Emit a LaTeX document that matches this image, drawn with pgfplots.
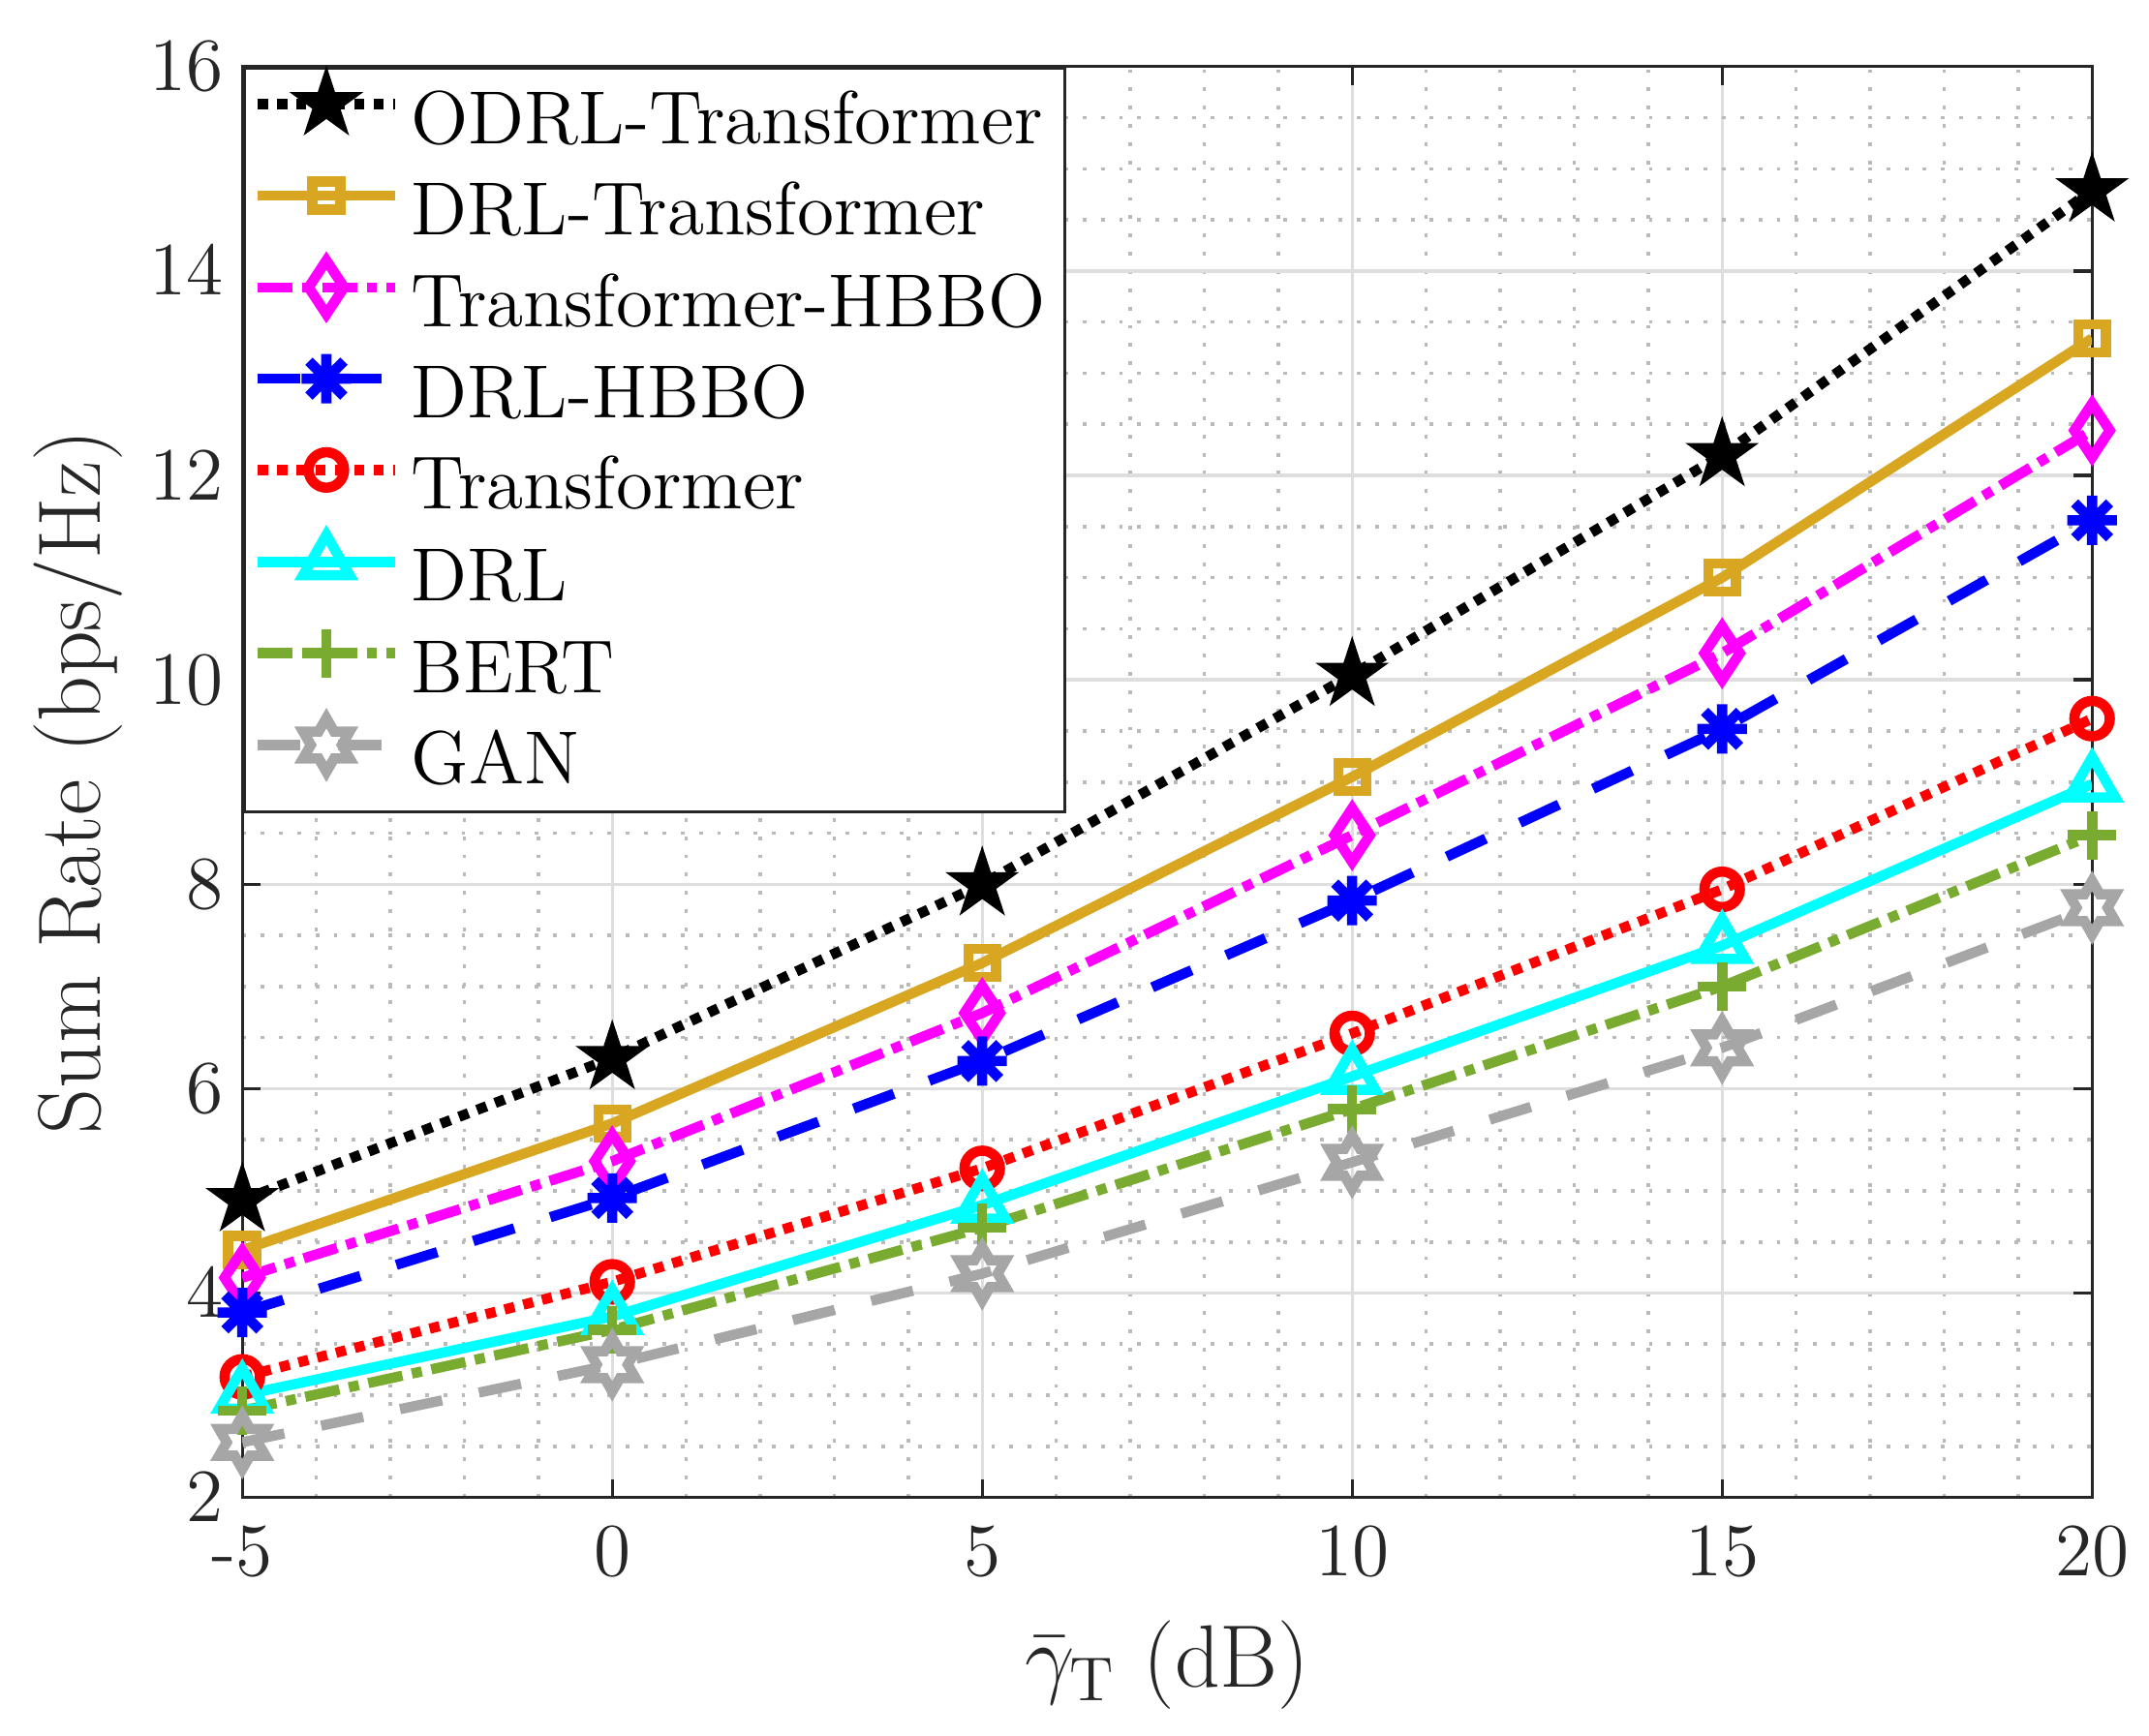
\RequirePackage{fix-cm}
\documentclass[border=0pt]{standalone}
\usepackage{fontspec}
\usepackage{pgfplots}
\pgfplotsset{compat=1.18}

\definecolor{cgold}{rgb}{0.85,0.65,0.13}
\definecolor{cgreen}{rgb}{0.47,0.67,0.19}
\definecolor{cgray}{rgb}{0.65,0.65,0.65}
\definecolor{caxis}{rgb}{0.15,0.15,0.15}
\definecolor{cmag}{rgb}{1,0,1}
\definecolor{ccyan}{rgb}{0,1,1}
\definecolor{cblue}{rgb}{0,0,1}
\definecolor{cred}{rgb}{1,0,0}

\pgfdeclareplotmark{fstar}{%
  \pgfpathmoveto{\pgfqpoint{0pt}{\pgfplotmarksize}}%
  \pgfpathlineto{\pgfqpoint{-0.2245\pgfplotmarksize}{0.3090\pgfplotmarksize}}%
  \pgfpathlineto{\pgfqpoint{-0.9511\pgfplotmarksize}{0.3090\pgfplotmarksize}}%
  \pgfpathlineto{\pgfqpoint{-0.3633\pgfplotmarksize}{-0.1180\pgfplotmarksize}}%
  \pgfpathlineto{\pgfqpoint{-0.5878\pgfplotmarksize}{-0.8090\pgfplotmarksize}}%
  \pgfpathlineto{\pgfqpoint{0pt}{-0.382\pgfplotmarksize}}%
  \pgfpathlineto{\pgfqpoint{0.5878\pgfplotmarksize}{-0.8090\pgfplotmarksize}}%
  \pgfpathlineto{\pgfqpoint{0.3633\pgfplotmarksize}{-0.1180\pgfplotmarksize}}%
  \pgfpathlineto{\pgfqpoint{0.9511\pgfplotmarksize}{0.3090\pgfplotmarksize}}%
  \pgfpathlineto{\pgfqpoint{0.2245\pgfplotmarksize}{0.3090\pgfplotmarksize}}%
  \pgfpathclose\pgfusepathqfillstroke}

\pgfdeclareplotmark{hexagram}{%
  \pgfpathmoveto{\pgfqpoint{0pt}{\pgfplotmarksize}}%
  \pgfpathlineto{\pgfqpoint{-0.2887\pgfplotmarksize}{0.5\pgfplotmarksize}}%
  \pgfpathlineto{\pgfqpoint{-0.8660\pgfplotmarksize}{0.5\pgfplotmarksize}}%
  \pgfpathlineto{\pgfqpoint{-0.5774\pgfplotmarksize}{0pt}}%
  \pgfpathlineto{\pgfqpoint{-0.8660\pgfplotmarksize}{-0.5\pgfplotmarksize}}%
  \pgfpathlineto{\pgfqpoint{-0.2887\pgfplotmarksize}{-0.5\pgfplotmarksize}}%
  \pgfpathlineto{\pgfqpoint{0pt}{-\pgfplotmarksize}}%
  \pgfpathlineto{\pgfqpoint{0.2887\pgfplotmarksize}{-0.5\pgfplotmarksize}}%
  \pgfpathlineto{\pgfqpoint{0.8660\pgfplotmarksize}{-0.5\pgfplotmarksize}}%
  \pgfpathlineto{\pgfqpoint{0.5774\pgfplotmarksize}{0pt}}%
  \pgfpathlineto{\pgfqpoint{0.8660\pgfplotmarksize}{0.5\pgfplotmarksize}}%
  \pgfpathlineto{\pgfqpoint{0.2887\pgfplotmarksize}{0.5\pgfplotmarksize}}%
  \pgfpathclose\pgfusepathqstroke}

\pgfdeclareplotmark{mdiamond}{%
  \pgfpathmoveto{\pgfqpoint{0pt}{\pgfplotmarksize}}%
  \pgfpathlineto{\pgfqpoint{-0.66\pgfplotmarksize}{0pt}}%
  \pgfpathlineto{\pgfqpoint{0pt}{-\pgfplotmarksize}}%
  \pgfpathlineto{\pgfqpoint{0.66\pgfplotmarksize}{0pt}}%
  \pgfpathclose\pgfusepathqstroke}

\pgfdeclareplotmark{mstar}{%
  \pgfpathmoveto{\pgfqpoint{-\pgfplotmarksize}{0pt}}%
  \pgfpathlineto{\pgfqpoint{\pgfplotmarksize}{0pt}}%
  \pgfpathmoveto{\pgfqpoint{0pt}{-\pgfplotmarksize}}%
  \pgfpathlineto{\pgfqpoint{0pt}{\pgfplotmarksize}}%
  \pgfpathmoveto{\pgfqpoint{-0.707\pgfplotmarksize}{-0.707\pgfplotmarksize}}%
  \pgfpathlineto{\pgfqpoint{0.707\pgfplotmarksize}{0.707\pgfplotmarksize}}%
  \pgfpathmoveto{\pgfqpoint{-0.707\pgfplotmarksize}{0.707\pgfplotmarksize}}%
  \pgfpathlineto{\pgfqpoint{0.707\pgfplotmarksize}{-0.707\pgfplotmarksize}}%
  \pgfusepathqstroke}

\begin{document}
\begin{tikzpicture}
\begin{axis}[
  name=ax,
  scale only axis, width=344.3pt, height=266.4pt,
  xmin=-5, xmax=20, ymin=2, ymax=16,
  xtick={-5,0,5,10,15,20}, xticklabels={-5,0,5,10,15,20},
  ytick={2,4,...,16},
  minor x tick num=4, minor y tick num=3,
  grid=both,
  major grid style={color=black!13, line width=0.6pt},
  minor grid style={color=black!27, line width=0.65pt, dash pattern=on 0.7pt off 2.7pt},
  tick align=inside, major tick length=3.4pt, minor tick length=0pt,
  tick style={color=caxis, line width=0.6pt},
  axis line style={color=caxis, line width=0.6pt},
  every tick label/.append style={text=caxis, font=\fontsize{14}{17}\selectfont},
  xticklabel style={yshift=-1.8pt},
  xlabel={$\bar{\gamma}_{\mathrm{T}}$ (dB)},
  ylabel={Sum Rate (bps/Hz)},
  xlabel style={at={(rel axis cs:0.5,0)}, anchor=center, yshift=-31.2pt, text=caxis, font=\fontsize{16.5}{19}\selectfont},
  ylabel style={at={(rel axis cs:0,0.5)}, anchor=center, yshift=30.5pt, text=caxis, font=\fontsize{16.5}{19}\selectfont},
  legend cell align=left,
  legend style={at={(rel axis cs:0,1)}, anchor=north west, draw=caxis, line width=0.6pt,
    fill=white, font=\fontsize{14}{17}\selectfont, row sep=0pt, column sep=0pt,
    inner xsep=1.6pt, inner ysep=0.3pt,
    nodes={inner xsep=2pt, inner ysep=0pt, text height=12.2pt, text depth=4.8pt}},
  legend image code/.code={\draw[mark repeat=2,mark phase=2,yshift=3.6pt] plot coordinates {(0pt,0pt) (12.8pt,0pt) (25.6pt,0pt)};},
  every axis plot/.append style={line width=1.9pt, mark options={solid, line width=1.9pt}},
]
\addplot[black, dash pattern=on 1.9pt off 1.7pt, mark=fstar, mark size=6.4pt, mark options={solid, fill=black, line width=0.5pt}]
  coordinates {(-5,4.91) (0,6.30) (5,8.00) (10,10.05) (15,12.20) (20,14.79)};
\addlegendentry{ODRL-Transformer}
\addplot[cgold, solid, mark=square, mark size=2.6pt]
  coordinates {(-5,4.42) (0,5.66) (5,7.23) (10,9.05) (15,11.00) (20,13.34)};
\addlegendentry{DRL-Transformer}
\addplot[cmag, dash pattern=on 6.5pt off 1.8pt on 1.9pt off 1.8pt, mark=mdiamond, mark size=5pt]
  coordinates {(-5,4.15) (0,5.29) (5,6.74) (10,8.48) (15,10.26) (20,12.44)};
\addlegendentry{Transformer-HBBO}
\addplot[cblue, dash pattern=on 8pt off 7pt, mark=mstar, mark size=4.6pt]
  coordinates {(-5,3.81) (0,4.93) (5,6.27) (10,7.84) (15,9.52) (20,11.56)};
\addlegendentry{DRL-HBBO}
\addplot[cred, dash pattern=on 1.9pt off 1.7pt, mark=o, mark size=3.3pt]
  coordinates {(-5,3.18) (0,4.11) (5,5.22) (10,6.54) (15,7.95) (20,9.62)};
\addlegendentry{Transformer}
\addplot[ccyan, solid, mark=triangle, mark size=5pt]
  coordinates {(-5,3.00) (0,3.77) (5,4.86) (10,6.12) (15,7.40) (20,8.98)};
\addlegendentry{DRL}
\addplot[cgreen, dash pattern=on 6.5pt off 1.8pt on 1.9pt off 1.8pt, mark=+, mark size=4.5pt]
  coordinates {(-5,2.85) (0,3.64) (5,4.64) (10,5.80) (15,7.00) (20,8.48)};
\addlegendentry{BERT}
\addplot[cgray, dash pattern=on 8pt off 7pt, mark=hexagram, mark size=5pt]
  coordinates {(-5,2.54) (0,3.30) (5,4.19) (10,5.28) (15,6.40) (20,7.77)};
\addlegendentry{GAN}
\end{axis}
\pgfresetboundingbox
\path[use as bounding box] ([xshift=-45.1pt,yshift=-44.3pt]ax.south west) rectangle ([xshift=10.6pt,yshift=12.4pt]ax.north east);
\end{tikzpicture}
\end{document}
